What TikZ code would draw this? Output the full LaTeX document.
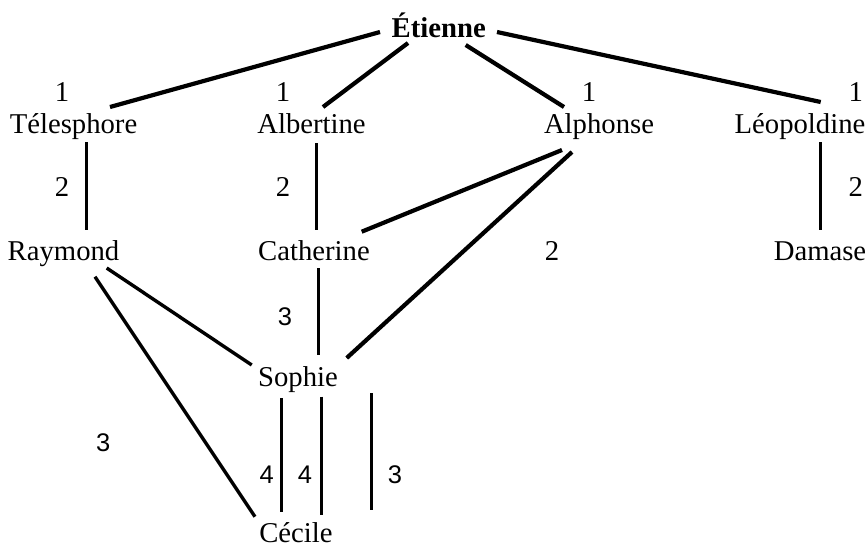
\documentclass[tikz,border=0pt]{standalone}
\usepackage{fontspec}
\setmainfont{Liberation Serif}
\newfontfamily\sansnum{Liberation Sans}
\begin{document}
\begin{tikzpicture}[x=1pt,y=-1pt,
  person/.style={anchor=base,inner sep=0pt,font=\fontsize{28.7}{30}\selectfont},
  num/.style={anchor=base,inner sep=0pt,font=\fontsize{28.7}{30}\selectfont},
  snum/.style={anchor=base,inner sep=0pt,font=\sansnum\fontsize{25.5}{28}\selectfont},
  thick link/.style={line width=4.2pt},
  link/.style={line width=3.4pt}]
\useasboundingbox (0,0) rectangle (868,547);
% people
\node[person,font=\bfseries\fontsize{28.7}{30}\selectfont] (etienne) at (438.7,37.5) {Étienne};
\node[person] (teles) at (73.5,133) {Télesphore};
\node[person] (albert) at (311.5,133) {Albertine};
\node[person] (alph) at (599,133) {Alphonse};
\node[person] (leop) at (800,133) {Léopoldine};
\node[person] (raym) at (63.5,260) {Raymond};
\node[person] (cath) at (314,260) {Catherine};
\node[person] (damase) at (820,260) {Damase};
\node[person] (sophie) at (298,386.7) {Sophie};
\node[person] (cecile) at (296,542) {Cécile};
% numbers
\node[num] (n1a) at (62,101.7) {1};
\node[num] (n1b) at (283,101.7) {1};
\node[num] (n1c) at (589,101.7) {1};
\node[num] (n1d) at (855.7,101.7) {1};
\node[num] (n2a) at (62,196.7) {2};
\node[num] (n2b) at (283,196.7) {2};
\node[num] (n2d) at (855.7,196.7) {2};
\node[num] (n2c) at (552,260) {2};
\node[snum] (n3a) at (285,325) {3};
\node[snum] (n3b) at (103.3,451.7) {3};
\node[snum] (n4a) at (266.7,483) {4};
\node[snum] (n4b) at (305,483) {4};
\node[snum] (n3c) at (395,483) {3};
% free line ends
\coordinate (f1) at (371.7,393);
\coordinate (f2) at (371.7,510);
% connectors from Étienne
\draw[thick link] ([xshift=-58.7pt,yshift=5.5pt]etienne.base) -- ([xshift=36.5pt,yshift=26pt]teles.base);
\draw[thick link] ([xshift=-30.7pt,yshift=-5.5pt]etienne.base) -- ([xshift=11.5pt,yshift=26pt]albert.base);
\draw[thick link] ([xshift=27pt,yshift=-7.5pt]etienne.base) -- ([xshift=-35pt,yshift=26pt]alph.base);
\draw[thick link] ([xshift=58.3pt,yshift=5.5pt]etienne.base) -- ([xshift=20.7pt,yshift=31pt]leop.base);
% second level
\draw[link] ([xshift=13.2pt,yshift=-9pt]teles.base) -- ([xshift=23.2pt,yshift=30pt]raym.base);
\draw[link] ([xshift=5.2pt,yshift=-10pt]albert.base) -- ([xshift=2.7pt,yshift=30pt]cath.base);
\draw[link] ([xshift=20.7pt,yshift=-9pt]leop.base) -- ([xshift=0.7pt,yshift=30pt]damase.base);
\draw[thick link] ([xshift=-37pt,yshift=-17pt]alph.base) -- ([xshift=47.7pt,yshift=28.3pt]cath.base);
\draw[thick link] ([xshift=-27pt,yshift=-19pt]alph.base) -- ([xshift=48.7pt,yshift=28.7pt]sophie.base);
% third level
\draw[link] ([xshift=43.2pt,yshift=-8pt]raym.base) -- ([xshift=-46.3pt,yshift=21.7pt]sophie.base);
\draw[link] ([xshift=31.5pt,yshift=-16.7pt]raym.base) -- ([xshift=-41pt,yshift=25.3pt]cecile.base);
\draw[link] ([xshift=4.3pt,yshift=-8pt]cath.base) -- ([xshift=20.3pt,yshift=31.7pt]sophie.base);
\draw[link] ([xshift=-16.3pt,yshift=-11.3pt]sophie.base) -- ([xshift=-14.3pt,yshift=30.3pt]cecile.base);
\draw[link] ([xshift=23.7pt,yshift=-10pt]sophie.base) -- ([xshift=25.7pt,yshift=27pt]cecile.base);
\draw[link] (f1) -- (f2);
\end{tikzpicture}
\end{document}
